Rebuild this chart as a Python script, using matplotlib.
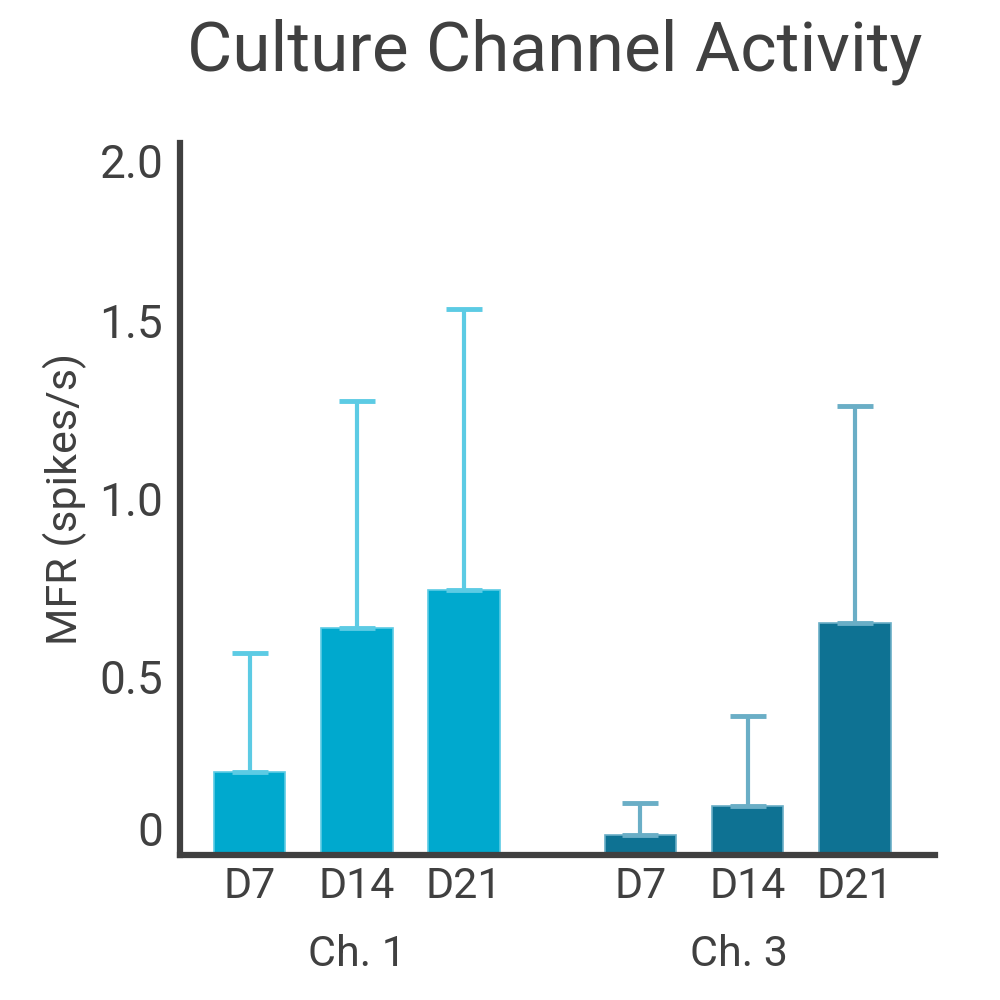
import numpy as np
import matplotlib
matplotlib.use("Agg")
import matplotlib.pyplot as plt

plt.rcParams['font.family'] = ['Roboto', 'DejaVu Sans']

# data
days = ["D7", "D14", "D21"]
channels = ["Ch. 1", "Ch. 3"]
ch1_mean = [0.233, 0.638, 0.744]
ch1_err = [0.334, 0.637, 0.790]
ch3_mean = [0.056, 0.138, 0.652]
ch3_err = [0.090, 0.252, 0.609]

txt = '#404040'
ch1_color = '#00a9ce'
ch1_light = '#5ccbe4'
ch3_color = '#0e7293'
ch3_light = '#6aaec6'

pos1 = np.array([0, 1, 2])
pos3 = pos1 + 3.65
w = 0.67

fig = plt.figure(figsize=(10, 10), dpi=100)
ax = fig.add_axes([0.18, 0.145, 0.755, 0.712])

ax.bar(pos1, ch1_mean, width=w, color=ch1_color, edgecolor=ch1_light, linewidth=1.2,
       yerr=[np.zeros(3), ch1_err], ecolor=ch1_light,
       error_kw=dict(capsize=13, elinewidth=3, capthick=3.5))
ax.bar(pos3, ch3_mean, width=w, color=ch3_color, edgecolor=ch3_light, linewidth=1.2,
       yerr=[np.zeros(3), ch3_err], ecolor=ch3_light,
       error_kw=dict(capsize=13, elinewidth=3, capthick=3.5))

ax.set_xlim(-0.65, 6.4)
ax.set_ylim(0, 2.0)
ax.set_yticks([0, 0.5, 1.0, 1.5, 2.0])
ax.set_yticklabels(["0", "0.5", "1.0", "1.5", "2.0"])
ax.set_xticks(np.concatenate([pos1, pos3]))
ax.set_xticklabels(days + days)
ax.tick_params(axis='both', length=0, colors=txt)
ax.tick_params(axis='x', pad=8, labelsize=31)
ax.tick_params(axis='y', pad=12, labelsize=33)

ylabels = ax.get_yticklabels()
ylabels[0].set_va('bottom')
ylabels[-1].set_va('top')

for s in ['top', 'right']:
    ax.spines[s].set_visible(False)
for s in ['left', 'bottom']:
    ax.spines[s].set_linewidth(4.5)
    ax.spines[s].set_color(txt)

ax.set_ylabel("MFR (spikes/s)", fontsize=31, color=txt, labelpad=9)

for x, lab in zip([pos1.mean(), pos3.mean() - 0.08], channels):
    ax.text(x, -0.14, lab, ha='center', va='center', fontsize=31, color=txt,
            transform=ax.get_xaxis_transform())

fig.text(0.555, 0.948, "Culture Channel Activity", ha='center', va='center',
         fontsize=50, color=txt)

fig.savefig("out.png", dpi=100)
